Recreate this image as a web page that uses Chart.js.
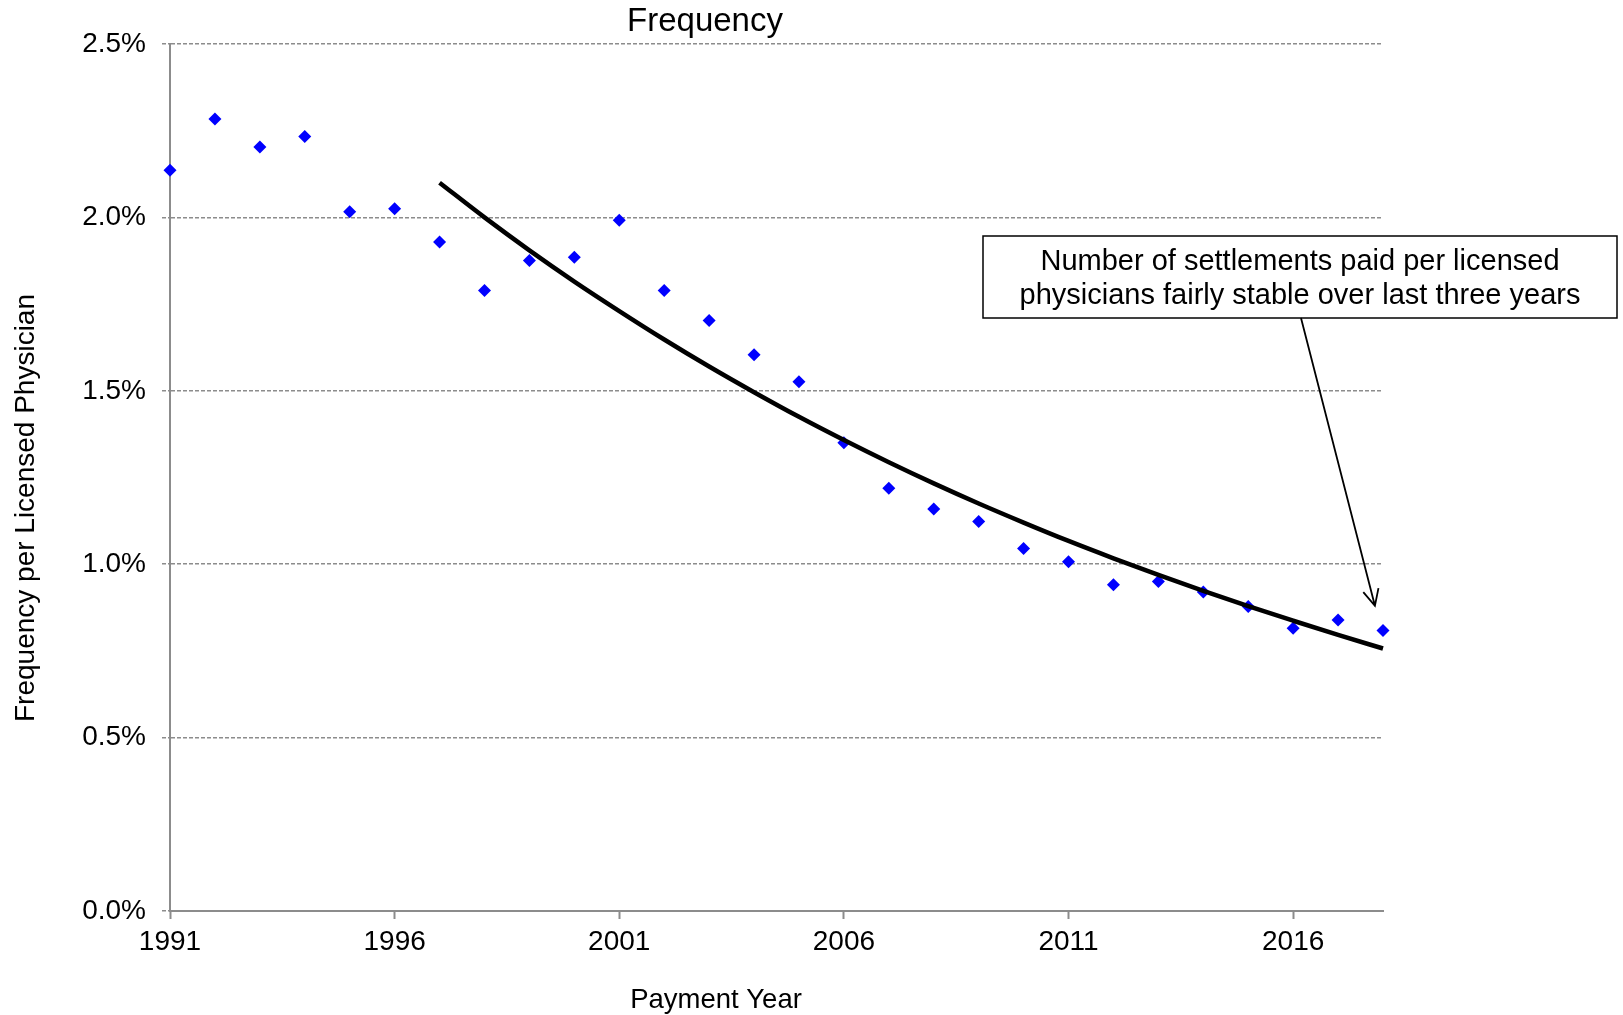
<!DOCTYPE html>
<html lang="en">
  <head>
    <meta charset="UTF-8" />
    <title>Frequency</title>
    <script src="https://cdn.jsdelivr.net/npm/chart.js"></script>
    <style>
      body {
        margin: 0;
        background: white;
      }
    </style>
  </head>
  <body>
    <canvas id="freqChart" width="1623" height="1015"></canvas>

    <script>
      // data (percent per licensed physician)
      const years = [
        1991, 1992, 1993, 1994, 1995, 1996, 1997, 1998, 1999, 2000, 2001, 2002,
        2003, 2004, 2005, 2006, 2007, 2008, 2009, 2010, 2011, 2012, 2013, 2014,
        2015, 2016, 2017, 2018,
      ];
      const frequency = [
        2.136, 2.284, 2.203, 2.233, 2.016, 2.025, 1.929, 1.789, 1.876, 1.885,
        1.992, 1.789, 1.703, 1.604, 1.526, 1.35, 1.219, 1.159, 1.123, 1.045,
        1.007, 0.941, 0.95, 0.92, 0.878, 0.815, 0.839, 0.809,
      ];
      // trend line (black curve), 1997 - 2018
      const trendYears = [
        1997, 1998, 1999, 2000, 2001, 2002, 2003, 2004, 2005, 2006, 2007, 2008,
        2009, 2010, 2011, 2012, 2013, 2014, 2015, 2016, 2017, 2018,
      ];
      const trendValues = [
        2.1, 2.0, 1.905, 1.815, 1.73, 1.648, 1.57, 1.496, 1.425, 1.358, 1.294,
        1.233, 1.175, 1.12, 1.067, 1.017, 0.969, 0.923, 0.879, 0.837, 0.796,
        0.757,
      ];
      const xTicks = [1991, 1996, 2001, 2006, 2011, 2016];
      const yTicks = [0, 0.5, 1.0, 1.5, 2.0, 2.5];

      const noteLines = [
        "Number of settlements paid per licensed",
        "physicians fairly stable over last three years",
      ];
      const noteTarget = { x: 2017.82, y: 0.88 }; // where the arrow points

      const FONT = "'Liberation Sans', Arial, sans-serif";
      const grey = "#8c8c8c";

      // draws title, axis titles and the callout box with its arrow
      const extras = {
        id: "extras",
        afterDraw(chart) {
          const c = chart.ctx;
          c.save();
          c.fillStyle = "#000";
          c.textAlign = "center";
          c.textBaseline = "middle";

          c.font = "33px " + FONT;
          c.fillText("Frequency", 705, 22);

          c.font = "27.5px " + FONT;
          c.fillText("Payment Year", 716, 1000);

          c.font = "28px " + FONT;
          c.save();
          c.translate(26, 508);
          c.rotate(-Math.PI / 2);
          c.fillText("Frequency per Licensed Physician", 0, 0);
          c.restore();

          // callout box
          const bx = 983, by = 236, bw = 634, bh = 82;
          c.fillStyle = "#fff";
          c.fillRect(bx, by, bw, bh);
          c.lineWidth = 1.5;
          c.strokeStyle = "#000";
          c.strokeRect(bx, by, bw, bh);
          c.fillStyle = "#000";
          c.font = "29px " + FONT;
          c.fillText(noteLines[0], bx + bw / 2, 262);
          c.fillText(noteLines[1], bx + bw / 2, 296);

          // arrow
          const tx = chart.scales.x.getPixelForValue(noteTarget.x);
          const ty = chart.scales.y.getPixelForValue(noteTarget.y);
          const sx = 1301, sy = by + bh;
          c.lineWidth = 1.8;
          c.beginPath();
          c.moveTo(sx, sy);
          c.lineTo(tx, ty);
          const ang = Math.atan2(ty - sy, tx - sx);
          const L = 18, spread = 0.45;
          c.moveTo(tx - L * Math.cos(ang - spread), ty - L * Math.sin(ang - spread));
          c.lineTo(tx, ty);
          c.lineTo(tx - L * Math.cos(ang + spread), ty - L * Math.sin(ang + spread));
          c.stroke();
          c.restore();
        },
      };

      const ctx = document.getElementById("freqChart").getContext("2d");
      const chart = new Chart(ctx, {
        type: "scatter",
        data: {
          datasets: [
            {
              label: "Frequency",
              data: years.map((y, i) => ({ x: y, y: frequency[i] })),
              pointStyle: "rectRot",
              pointRadius: 6.5,
              pointBorderWidth: 0,
              backgroundColor: "#0000ff",
              borderColor: "#0000ff",
              clip: false,
              order: 2,
            },
            {
              label: "Trend",
              type: "line",
              data: trendYears.map((y, i) => ({ x: y, y: trendValues[i] })),
              borderColor: "#000",
              borderWidth: 4.5,
              pointRadius: 0,
              cubicInterpolationMode: "monotone",
              fill: false,
              clip: false,
              order: 1,
            },
          ],
        },
        options: {
          responsive: false,
          animation: false,
          layout: {
            padding: { top: 44, right: 240, bottom: 0, left: 0 },
          },
          plugins: {
            legend: { display: false },
            tooltip: { enabled: false },
          },
          scales: {
            x: {
              type: "linear",
              min: 1991,
              max: 2018,
              afterBuildTicks: (axis) => {
                axis.ticks = xTicks.map((v) => ({ value: v }));
              },
              afterFit: (axis) => {
                axis.height = 104;
              },
              ticks: {
                color: "#000",
                font: { family: FONT, size: 28 },
                padding: 6,
                maxRotation: 0,
                callback: (v) => String(v),
              },
              grid: {
                drawOnChartArea: false,
                drawTicks: true,
                tickLength: 8,
                tickColor: grey,
                tickWidth: 2,
              },
              border: { color: grey, width: 2 },
            },
            y: {
              min: 0,
              max: 2.5,
              afterBuildTicks: (axis) => {
                axis.ticks = yTicks.map((v) => ({ value: v }));
              },
              afterFit: (axis) => {
                axis.width = 170;
              },
              ticks: {
                color: "#000",
                font: { family: FONT, size: 28 },
                padding: 16,
                callback: (v) => v.toFixed(1) + "%",
              },
              grid: {
                color: grey,
                lineWidth: 1.5,
                tickLength: 8,
                tickColor: grey,
                tickWidth: 1.5,
                tickBorderDash: [4, 2],
              },
              border: { color: grey, width: 2, dash: [4, 2] },
            },
          },
        },
        plugins: [extras],
      });
    </script>
  </body>
</html>
